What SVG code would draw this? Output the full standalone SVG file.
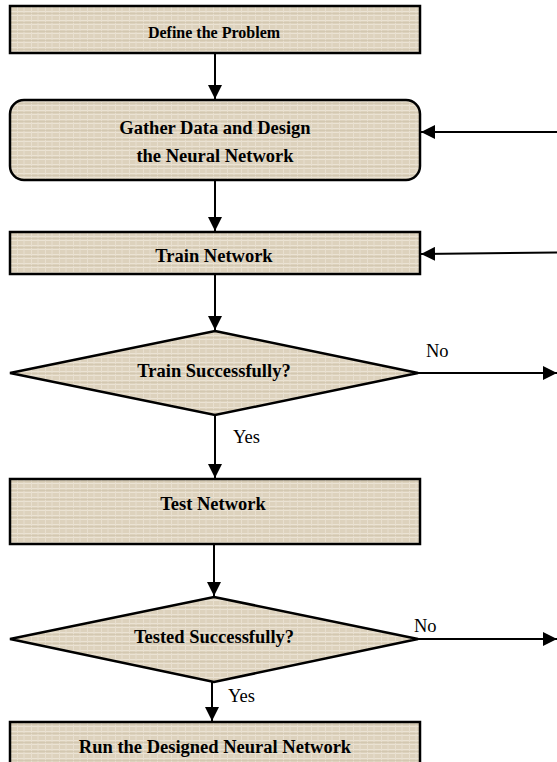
<svg xmlns="http://www.w3.org/2000/svg" width="557" height="762" viewBox="0 0 557 762">
  <defs>
    <pattern id="tex" patternUnits="userSpaceOnUse" width="14" height="9">
      <rect width="14" height="9" fill="#ddd2bd"/>
      <path d="M0 2.5H14M0 6.5H14" stroke="#ebe3d4" stroke-width="1"/>
      <path d="M3.5 0V9M10 0V9" stroke="#e8dfcf" stroke-width="1"/>
      <path d="M0 4.5H14" stroke="#cdc1aa" stroke-width="0.6"/>
    </pattern>
    <marker id="ah" markerUnits="userSpaceOnUse" markerWidth="14" markerHeight="14" viewBox="0 0 14 14" refX="14" refY="7" orient="auto">
      <path d="M0 0L14 7L0 14Z" fill="#000"/>
    </marker>
    <style>
      .node{fill:url(#tex);stroke:#000;stroke-width:2.5}
      .lbl{font-family:"Liberation Serif","Times New Roman",serif;font-weight:bold;font-size:18.5px;fill:#000;text-anchor:middle}
      .small{font-size:16px}
      .edge{font-family:"Liberation Serif","Times New Roman",serif;font-size:18.5px;fill:#000}
      .conn{stroke:#000;stroke-width:2;fill:none;marker-end:url(#ah)}
    </style>
  </defs>
  <rect width="557" height="762" fill="#fff"/>

  <g id="define">
    <rect class="node" x="10" y="6" width="410" height="47"/>
    <text class="lbl small" x="214" y="38">Define the Problem</text>
  </g>
  <g id="gather">
    <rect class="node" x="10" y="100" width="410" height="80" rx="14" ry="14"/>
    <text class="lbl" x="215" y="134">Gather Data and Design</text>
    <text class="lbl" x="215" y="162">the Neural Network</text>
  </g>
  <g id="train">
    <rect class="node" x="10" y="232" width="410" height="42"/>
    <text class="lbl" x="214" y="262">Train Network</text>
  </g>
  <g id="trainok">
    <polygon class="node" points="215,331 418,373 215,415 10,373"/>
    <text class="lbl" x="214" y="377">Train Successfully?</text>
  </g>
  <g id="test">
    <rect class="node" x="10" y="479" width="410" height="65"/>
    <text class="lbl" x="213" y="510">Test Network</text>
  </g>
  <g id="testok">
    <polygon class="node" points="214,597 418,639 214,682 10,639"/>
    <text class="lbl" x="214" y="643">Tested Successfully?</text>
  </g>
  <g id="run">
    <rect class="node" x="10" y="722" width="410" height="50"/>
    <text class="lbl" x="215" y="753">Run the Designed Neural Network</text>
  </g>

  <g id="connectors">
    <line class="conn" x1="215" y1="53" x2="215" y2="99"/>
    <line class="conn" x1="215" y1="180" x2="215" y2="231"/>
    <line class="conn" x1="215" y1="274" x2="215" y2="330"/>
    <line class="conn" x1="215" y1="415" x2="215" y2="478"/>
    <line class="conn" x1="214" y1="544" x2="214" y2="596"/>
    <line class="conn" x1="212" y1="682" x2="212" y2="721"/>
    <line class="conn" x1="557" y1="132" x2="421" y2="132"/>
    <line class="conn" x1="557" y1="252.5" x2="421" y2="254"/>
    <line class="conn" x1="418" y1="373" x2="557" y2="373"/>
    <line class="conn" x1="418" y1="639" x2="557" y2="639"/>
    <text class="edge" x="426" y="357">No</text>
    <text class="edge" x="233" y="443">Yes</text>
    <text class="edge" x="414" y="632">No</text>
    <text class="edge" x="228" y="702">Yes</text>
  </g>
</svg>
